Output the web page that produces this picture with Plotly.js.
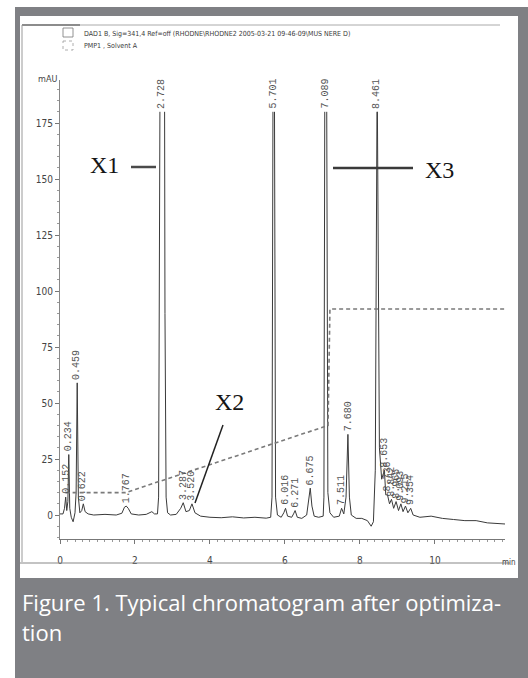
<!DOCTYPE html>
<html><head><meta charset="utf-8">
<script src="https://cdn.plot.ly/plotly-3.0.1.min.js"></script>
<style>html,body{margin:0;padding:0;background:#fff;overflow:hidden;} #chart{width:528px;height:678px;}</style>
</head><body><div id="chart"></div>
<script>
// Chromatogram signal (time in min, signal in mAU); null = off-scale (clipped) peak top
const time = [0.00,0.08,0.12,0.152,0.18,0.21,0.234,0.26,0.30,0.35,0.40,0.43,0.459,0.49,0.53,0.58,0.622,0.67,0.75,0.9,1.2,1.5,1.65,1.72,1.767,1.82,1.9,2.1,2.3,2.45,2.52,
  2.60,2.63,2.655,2.665,null,2.79,2.80,2.83,2.87,
  2.95,3.1,3.22,3.287,3.36,3.45,3.52,3.60,3.75,4.0,4.3,4.6,4.9,5.2,5.5,
  5.62,5.655,5.672,5.68,null,5.722,5.73,5.75,5.8,
  5.9,5.97,6.016,6.07,6.18,6.23,6.271,6.33,6.45,6.58,6.63,6.675,6.72,6.78,6.9,
  7.02,7.04,7.055,7.062,null,7.115,7.122,7.145,7.2,
  7.3,7.45,7.511,7.57,7.63,7.680,7.72,7.77,7.9,8.05,8.2,8.3,8.36,
  8.41,8.44,8.455,null,8.467,8.485,8.52,
  8.58,8.653,8.69,8.736,8.79,8.842,8.90,8.965,9.03,9.093,9.15,9.215,9.28,9.354,9.42,9.6,9.9,10.2,10.5,10.8,11.1,11.4,11.87];
const signal = [0.5,0.5,3,8,2,6,27,3,-1,-3,1,10,59,8,1,2,5,1.5,0.5,0,0.3,0,0.8,3.5,4,3,0.5,0,0.3,1.5,0.5,
  0.5,8,90,180,null,180,90,8,1,
  0,0.3,3,5.5,1.5,2,5,1,-0.5,-1,-1.2,-0.8,-1.3,-1,-1.4,
  -1,8,90,180,null,180,90,8,0,
  -1,1,3,-0.5,-1,0.5,2,-1,-1.5,0,6,12,4,-0.5,-1,
  -0.5,8,90,180,null,180,90,10,1,
  -1,-0.5,3,0.5,8,36,8,0,-1.5,-1.5,-2.5,-5,-3,
  20,100,180,null,180,100,30,
  16,20,9,9,5,7,3,6,2,5,1.5,4,1,3,0,-1,-0.5,-1.5,-2,-2.5,-2.5,-3.5,-4];
// Solvent A (PMP1) trace, dashed
const gradientTime = [0.15,1.75,7.15,7.2,11.85];
const gradientValue = [10,10,40,92,92];
// Peak labels
const peakTimes = [0.152,0.234,0.459,0.622,1.767,2.728,3.287,3.52,5.701,6.016,6.271,6.675,7.089,7.511,7.680,8.461,8.653,8.736,8.842,8.965,9.093,9.215,9.354];
const peakHeights = [8,27,59,5,4,180,5.5,5,180,3,2,12,180,3,36,180,20,9,7,6,5,4,3];
const peakLabels = ["0.152","0.234","0.459","0.622","1.767","2.728","3.287","3.520","5.701","6.016","6.271","6.675","7.089","7.511","7.680","8.461","8.653","8.736","8.842","8.965","9.093","9.215","9.354"];
const xTickVals = [0,2,4,6,8,10];
const yTickVals = [0,25,50,75,100,125,150,175];
const headerLines = ["DAD1 B, Sig=341,4 Ref=off (RHODNE\\RHODNE2 2005-03-21 09-46-09\\MUS NERE D)","PMP1 , Solvent A"];
const captionLines = ["Figure 1. Typical chromatogram after optimiza-","tion"];
const markers = ["X1","X2","X3"];

const L=60, R=505, T=80, B=539;
const px = x => (x-L)/(R-L);
const py = y => (B-y)/(B-T);
const narrow = "Liberation Sans Narrow, DejaVu Sans Condensed, Arial Narrow, sans-serif";

const traces = [
  {x: time, y: signal, mode:'lines', connectgaps:false, line:{color:'#3a3a3a', width:1}, hoverinfo:'skip', showlegend:false},
  {x: gradientTime, y: gradientValue, mode:'lines', line:{color:'#7a7a7a', width:1.6, dash:'4px,3px'}, hoverinfo:'skip', showlegend:false}
];

function txt(x, y, text, font, xanchor){
  return {x:px(x), y:py(y), xref:'paper', yref:'paper', text:text, showarrow:false,
    xanchor:xanchor||'center', yanchor:'middle', font:font};
}

const annotations = [];
peakTimes.forEach((t,i)=>{
  annotations.push({x:t, y:peakHeights[i], xref:'x', yref:'y', text:peakLabels[i], textangle:-90, showarrow:false,
    xanchor:'center', yanchor:'bottom', yshift:2, borderpad:0,
    font:{family:'Liberation Mono, DejaVu Sans Mono, monospace', size:10, color:'#555'}});
});
annotations.push(txt(47, 79, 'mAU', {family:narrow, size:9, color:'#444'}));
annotations.push(txt(500, 562, 'min', {family:narrow, size:8, color:'#444'}, 'left'));
annotations.push(txt(82, 34, headerLines[0], {family:narrow, size:7, color:'#3a3a3a'}, 'left'));
annotations.push(txt(82, 46, headerLines[1], {family:narrow, size:7, color:'#3a3a3a'}, 'left'));
const serif = "Liberation Serif, Times New Roman, serif";
annotations.push(txt(104, 165, markers[0], {family:serif, size:24, color:'#151515'}));
annotations.push(txt(229, 402, markers[1], {family:serif, size:24, color:'#151515'}));
annotations.push(txt(439, 170, markers[2], {family:serif, size:24, color:'#151515'}));
annotations.push(txt(20, 602, captionLines[0], {family:'Open Sans, Noto Sans, sans-serif', size:22, color:'#ffffff'}, 'left'));
annotations.push(txt(20, 632, captionLines[1], {family:'Open Sans, Noto Sans, sans-serif', size:22, color:'#ffffff'}, 'left'));

const shapes = [
  {type:'rect', xref:'paper', yref:'paper', x0:px(15), x1:px(530), y0:py(7), y1:py(680), fillcolor:'#7f8084', line:{width:0}, layer:'below'},
  {type:'rect', xref:'paper', yref:'paper', x0:px(20), x1:px(518), y0:py(16), y1:py(578), fillcolor:'#ffffff', line:{width:0}, layer:'below'},
  // scanned frame lines
  {type:'line', xref:'paper', yref:'paper', x0:px(22), x1:px(80), y0:py(25), y1:py(25), line:{color:'#666', width:1.5}},
  {type:'line', xref:'paper', yref:'paper', x0:px(80), x1:px(500), y0:py(25), y1:py(25), line:{color:'#aaa', width:1}},
  {type:'line', xref:'paper', yref:'paper', x0:px(22), x1:px(22), y0:py(25), y1:py(562), line:{color:'#999', width:1}},
  {type:'line', xref:'paper', yref:'paper', x0:px(20), x1:px(510), y0:py(563), y1:py(563), line:{color:'#888', width:1.2}},
  // legend boxes
  {type:'rect', xref:'paper', yref:'paper', x0:px(63), x1:px(73), y0:py(28), y1:py(37), line:{color:'#777', width:0.8}},
  {type:'rect', xref:'paper', yref:'paper', x0:px(63), x1:px(73), y0:py(41), y1:py(50), line:{color:'#999', width:0.8, dash:'dot'}},
  // marker leader lines
  {type:'line', xref:'paper', yref:'paper', x0:px(131), x1:px(156), y0:py(167), y1:py(167), line:{color:'#4a4a4a', width:2.5}},
  {type:'line', xref:'paper', yref:'paper', x0:px(333), x1:px(413), y0:py(168), y1:py(168), line:{color:'#3a3a3a', width:2.5}},
  {type:'line', xref:'paper', yref:'paper', x0:px(223), x1:px(195), y0:py(425), y1:py(503), line:{color:'#222', width:1.5}}
];

const layout = {
  width:528, height:678,
  margin:{l:L, r:528-R, t:T, b:678-B, pad:0},
  paper_bgcolor:'#ffffff', plot_bgcolor:'rgba(0,0,0,0)',
  showlegend:false,
  xaxis:{range:[0,11.87], showgrid:false, zeroline:false, showline:true, linecolor:'#777', linewidth:1,
    tickvals:xTickVals, ticktext:xTickVals.map(String), ticks:'outside', ticklen:4, tickcolor:'#777',
    minor:{dtick:0.2, ticks:'outside', ticklen:2, tickcolor:'#999'},
    ticklabelstandoff:8, tickfont:{family:narrow, size:10, color:'#444'}, fixedrange:true},
  yaxis:{range:[-10.7,194.2], showgrid:false, zeroline:false, showline:true, linecolor:'#888', linewidth:1,
    tickvals:yTickVals, ticktext:yTickVals.map(String), ticks:'outside', ticklen:4, tickcolor:'#777',
    minor:{dtick:5, ticks:'outside', ticklen:2, tickcolor:'#999'},
    tickfont:{family:narrow, size:10, color:'#444'}, fixedrange:true},
  annotations:annotations,
  shapes:shapes
};
Plotly.newPlot('chart', traces, layout, {staticPlot:true, displayModeBar:false});
</script>
</body></html>
